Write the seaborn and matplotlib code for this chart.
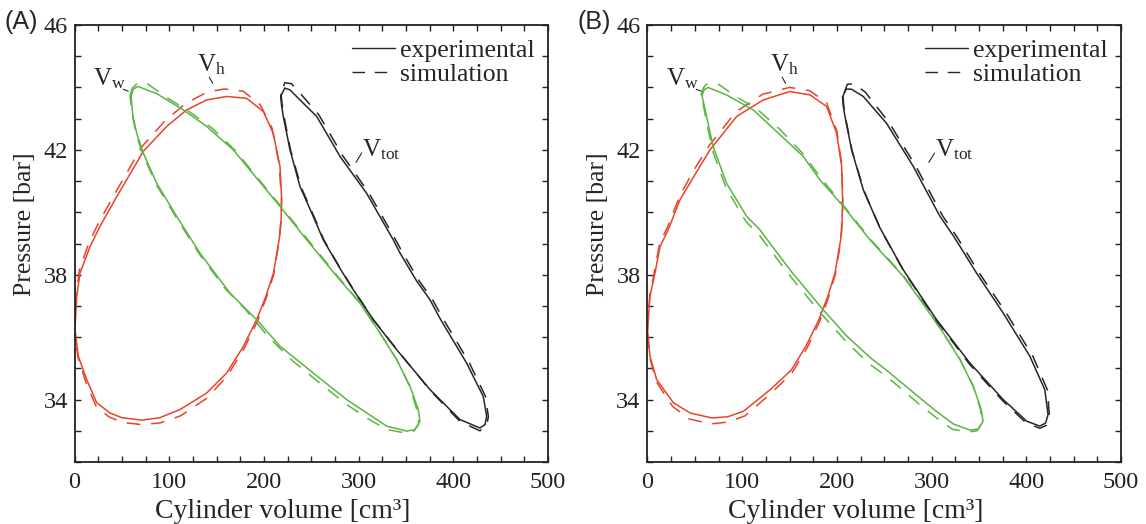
import numpy as np
import pandas as pd
import matplotlib
matplotlib.use("Agg")
import matplotlib.pyplot as plt
import seaborn as sns
from matplotlib.ticker import MultipleLocator, FixedLocator

# ---- panel A: p-V loops (volume cm3, pressure bar) ----
a_h_exp_x = [0.4, 2.2, 5.7, 16.3, 26.8, 44.5, 72.5, 97.3, 118.4, 139.5, 160.6, 181.7, 199.3, 209.8, 216.9, 218.7,
             218.0, 216.0, 210.0, 202.0, 192.3, 178.2, 160.6, 139.5, 111.3, 90.0, 70.9, 50.0, 37.4, 23.3, 12.8, 3.9]
a_h_exp_y = [36.24, 37.3, 38.05, 38.9, 39.55, 40.5, 41.95, 42.75, 43.28, 43.6, 43.71, 43.65, 43.23, 42.53, 41.47, 40.4,
             39.7, 39.12, 38.05, 37.31, 36.56, 35.7, 34.85, 34.21, 33.68, 33.42, 33.34, 33.42, 33.57, 33.9, 34.64, 35.39]
a_h_sim_x = [0.0, 1.8, 5.0, 15.5, 26.0, 43.5, 71.0, 96.0, 118.0, 140.0, 158.0, 178.0, 196.0, 208.5, 216.0, 218.5,
             217.8, 216.2, 210.3, 202.3, 193.0, 178.5, 161.0, 140.0, 112.0, 90.0, 70.0, 50.0, 36.0, 22.5, 12.0, 3.5]
a_h_sim_y = [36.2, 37.35, 38.15, 39.05, 39.7, 40.65, 42.1, 42.95, 43.5, 43.85, 43.95, 43.88, 43.45, 42.7, 41.55, 40.4,
             39.68, 39.1, 38.0, 37.25, 36.5, 35.6, 34.75, 34.05, 33.48, 33.25, 33.2, 33.27, 33.45, 33.8, 34.55, 35.35]

a_w_exp_x = [59.6, 62.0, 67.0, 86.7, 114.8, 139.5, 167.6, 185.0, 216.9, 245.1, 276.8, 301.4, 322.5, 340.1, 354.2,
             363.0, 364.7, 359.5, 350.7, 329.6, 287.3, 252.1, 216.9, 192.3, 164.1, 132.4, 107.8, 86.7, 72.5, 65.6,
             61.5]
a_w_exp_y = [43.7, 43.95, 44.03, 43.8, 43.28, 42.75, 42.0, 41.36, 40.19, 39.12, 37.95, 37.09, 36.13, 35.28, 34.43,
             33.68, 33.31, 33.04, 32.99, 33.15, 34.0, 34.85, 35.71, 36.56, 37.41, 38.69, 39.87, 40.93, 41.9, 42.53,
             43.1]
a_w_sim_x = [58.5, 61.0, 66.0, 76.0, 95.0, 120.0, 145.0, 170.0, 190.0, 216.0, 245.0, 277.0, 301.0, 322.0, 340.0,
             354.0, 362.0, 363.5, 358.0, 349.0, 330.0, 310.0, 287.0, 265.0, 252.0, 230.0, 205.0, 180.0, 160.0, 132.0,
             108.0, 87.0, 72.0, 65.0, 60.5]
a_w_sim_y = [43.75, 43.98, 44.12, 44.14, 43.72, 43.25, 42.7, 41.97, 41.22, 40.26, 39.17, 37.98, 37.12, 36.16, 35.3,
             34.42, 33.62, 33.22, 32.98, 32.93, 33.04, 33.38, 33.85, 34.38, 34.7, 35.25, 36.0, 36.9, 37.52, 38.65,
             39.8, 40.85, 41.85, 42.5, 43.2]

a_tot_exp_x = [217.6, 218.5, 220.4, 227.5, 238.0, 252.0, 262.6, 280.3, 294.3, 315.4, 340.1, 375.3, 407.0, 428.1,
               433.5, 435.2, 431.6, 414.0, 385.9, 375.3, 361.2, 343.6, 336.5, 308.4, 280.3, 255.7, 238.0, 227.5, 222.0]
a_tot_exp_y = [43.71, 43.45, 43.07, 42.0, 40.83, 39.87, 39.12, 38.2, 37.52, 36.56, 35.6, 34.32, 33.36, 33.09,
               33.2, 33.47, 34.1, 35.17, 36.6, 37.2, 37.8, 38.7, 39.12, 40.61, 41.79, 43.07, 43.6, 43.92, 43.98]
a_tot_sim_x = [218.0, 219.0, 221.0, 228.0, 239.0, 253.0, 263.5, 281.0, 295.0, 316.0, 341.0, 376.0, 407.0, 428.0,
               435.0, 437.0, 434.0, 417.0, 389.0, 378.0, 364.0, 346.5, 339.0, 311.0, 283.0, 258.0, 240.0, 229.0, 222.0]
a_tot_sim_y = [43.8, 43.5, 43.1, 42.0, 40.82, 39.85, 39.1, 38.18, 37.5, 36.54, 35.58, 34.28, 33.3, 33.0,
               33.15, 33.45, 34.1, 35.17, 36.6, 37.2, 37.8, 38.7, 39.12, 40.61, 41.82, 43.12, 43.75, 44.12, 44.15]

# ---- panel B ----
b_h_exp_x = [0.0, 2.6, 7.9, 13.2, 21.9, 34.3, 50.0, 66.0, 94.2, 122.3, 150.4, 171.6, 189.2, 199.8, 205.1, 206.1,
             205.5, 204.0, 198.0, 190.5, 181.0, 168.0, 152.0, 129.7, 101.6, 85.0, 68.1, 45.0, 27.3, 9.7, 2.6]
b_h_exp_y = [36.24, 37.3, 38.05, 38.9, 39.44, 40.4, 41.2, 42.0, 43.07, 43.6, 43.87, 43.76, 43.39, 42.53, 41.47, 40.4,
             39.7, 39.12, 38.05, 37.31, 36.56, 35.75, 34.95, 34.32, 33.63, 33.45, 33.41, 33.57, 33.9, 34.64, 35.39]
b_h_sim_x = [0.0, 2.4, 7.5, 12.8, 21.5, 34.0, 49.5, 65.5, 93.5, 121.5, 150.0, 171.0, 189.0, 200.0, 205.3, 206.3,
             205.7, 204.2, 198.3, 191.0, 181.5, 168.5, 152.5, 130.5, 103.0, 85.0, 67.0, 44.0, 26.5, 9.2, 2.3]
b_h_sim_y = [36.2, 37.35, 38.12, 39.0, 39.55, 40.52, 41.38, 42.15, 43.22, 43.78, 44.0, 43.9, 43.52, 42.6, 41.5, 40.4,
             39.68, 39.08, 38.0, 37.25, 36.48, 35.65, 34.85, 34.2, 33.48, 33.28, 33.22, 33.38, 33.78, 34.58, 35.35]

b_w_exp_x = [57.5, 60.0, 64.0, 83.5, 111.7, 138.0, 164.5, 182.1, 206.8, 234.9, 270.1, 291.0, 312.5, 330.0, 344.0,
             352.5, 354.4, 349.5, 341.0, 322.9, 305.3, 287.8, 270.1, 252.0, 235.0, 210.0, 184.0, 150.4, 118.7, 104.7,
             83.5, 69.4, 62.4]
b_w_exp_y = [43.75, 43.93, 44.0, 43.76, 43.28, 42.54, 41.79, 41.04, 40.19, 39.12, 37.95, 37.07, 36.13, 35.28, 34.43,
             33.68, 33.31, 33.06, 33.02, 33.22, 33.62, 34.05, 34.5, 34.95, 35.35, 36.05, 36.93, 38.16, 39.44, 39.87,
             40.93, 42.1, 43.07]
b_w_sim_x = [56.5, 59.0, 62.0, 73.0, 95.0, 116.0, 140.0, 165.0, 183.0, 207.0, 235.0, 270.0, 291.0, 312.0, 330.0,
             344.0, 352.0, 353.5, 348.0, 339.0, 322.0, 305.0, 287.0, 270.0, 252.0, 234.0, 210.0, 184.0, 150.0, 118.0,
             104.0, 83.0, 69.0, 62.0, 58.0]
b_w_sim_y = [43.75, 43.98, 44.1, 44.14, 43.68, 43.3, 42.65, 41.85, 41.1, 40.22, 39.15, 37.98, 37.1, 36.15, 35.3,
             34.43, 33.65, 33.25, 33.0, 32.96, 33.05, 33.42, 33.85, 34.3, 34.75, 35.15, 35.85, 36.73, 37.98, 39.27,
             39.7, 40.78, 41.95, 42.95, 43.6]

b_tot_exp_x = [206.0, 206.8, 208.6, 215.6, 227.9, 245.5, 270.1, 305.3, 340.5, 375.7, 400.4, 414.3, 420.5, 423.1,
               419.6, 403.8, 375.7, 347.6, 323.0, 308.9, 280.7, 252.5, 227.9, 215.6, 210.0]
b_tot_exp_y = [43.7, 43.4, 43.07, 42.0, 40.72, 39.5, 38.16, 36.56, 35.17, 34.0, 33.31, 33.15, 33.25, 33.52,
               34.32, 35.39, 36.77, 38.05, 39.25, 39.87, 41.47, 42.85, 43.71, 43.94, 43.95]
b_tot_sim_x = [206.5, 207.3, 209.0, 216.0, 228.5, 246.0, 270.5, 305.5, 340.5, 375.5, 400.0, 414.5, 421.5, 424.5,
               422.5, 407.0, 379.0, 350.5, 326.0, 312.0, 283.5, 255.0, 230.0, 218.0, 211.0]
b_tot_sim_y = [43.72, 43.4, 43.05, 41.98, 40.7, 39.47, 38.12, 36.52, 35.12, 33.95, 33.25, 33.08, 33.18, 33.45,
               34.3, 35.39, 36.77, 38.05, 39.25, 39.87, 41.47, 42.88, 43.85, 44.12, 44.1]

x_ticks = [0, 100, 200, 300, 400, 500]
y_ticks = [34, 38, 42, 46]

RED = "#e8432d"
GREEN = "#5bb544"
BLACK = "#262626"
DASH = (0, (9, 7))

panels = {
    "A": [(a_h_exp_x, a_h_exp_y, a_h_sim_x, a_h_sim_y, RED),
          (a_w_exp_x, a_w_exp_y, a_w_sim_x, a_w_sim_y, GREEN),
          (a_tot_exp_x, a_tot_exp_y, a_tot_sim_x, a_tot_sim_y, BLACK)],
    "B": [(b_h_exp_x, b_h_exp_y, b_h_sim_x, b_h_sim_y, RED),
          (b_w_exp_x, b_w_exp_y, b_w_sim_x, b_w_sim_y, GREEN),
          (b_tot_exp_x, b_tot_exp_y, b_tot_sim_x, b_tot_sim_y, BLACK)],
}

sns.set_style("ticks")
plt.rcParams["font.family"] = ["Liberation Serif", "DejaVu Serif"]
plt.rcParams["mathtext.fontset"] = "custom"
plt.rcParams["mathtext.rm"] = "Liberation Serif"
plt.rcParams["mathtext.it"] = "Liberation Serif:italic"

fig = plt.figure(figsize=(11.46, 5.24), dpi=100)
lefts = {"A": 0.0651, "B": 0.565}


def closed(xs, ys):
    # close the loop by repeating the first point
    return pd.DataFrame({"V": list(xs) + [xs[0]], "p": list(ys) + [ys[0]]})


for name, loops in panels.items():
    ax = fig.add_axes([lefts[name], 0.1183, 0.4131, 0.834])
    for ex, ey, sx, sy, col in loops:
        sns.lineplot(data=closed(sx, sy), x="V", y="p", sort=False, estimator=None, ax=ax,
                     color=col, lw=1.1, linestyle=DASH)
        sns.lineplot(data=closed(ex, ey), x="V", y="p", sort=False, estimator=None, ax=ax,
                     color=col, lw=1.1)

    ax.set_xlim(0, 500)
    ax.set_ylim(32, 46)
    ax.xaxis.set_major_locator(FixedLocator(x_ticks))
    ax.yaxis.set_major_locator(FixedLocator(y_ticks))
    ax.xaxis.set_minor_locator(MultipleLocator(25))
    ax.yaxis.set_minor_locator(MultipleLocator(1))
    ax.tick_params(which="both", direction="in", top=True, right=True,
                   length=4, width=1.0, colors="#222222", labelsize=17.5, pad=5)
    ax.tick_params(axis="x", pad=7)
    for s in ax.spines.values():
        s.set_linewidth(1.3)
        s.set_color("#222222")
    ax.set_xlabel("Cylinder volume [cm³]", fontsize=20, va="baseline")
    ax.xaxis.set_label_coords(0.439, -0.128)
    ax.set_ylabel("Pressure [bar]", fontsize=18.5, va="center")
    ax.yaxis.set_label_coords(-0.105, 0.545)

    # loop labels with small leader marks
    ax.text(19.7, 44.08, "V$_\\mathrm{w}$", fontsize=18, ha="left", va="baseline")
    ax.plot([51.4, 56.7], [43.94, 43.88], color=BLACK, lw=0.8)
    ax.text(128.9, 44.5, "V$_\\mathrm{h}$", fontsize=18, ha="left", va="baseline")
    ax.plot([142.2, 145.8], [44.33, 44.13], color=BLACK, lw=0.8)
    ax.text(303.2, 41.79, "V$_\\mathrm{tot}$", fontsize=18, ha="left", va="baseline")
    ax.plot([297.2, 303.2], [41.6, 41.9], color=BLACK, lw=0.8)

    h1, = ax.plot([], [], color=BLACK, lw=1.0)
    h2, = ax.plot([], [], color=BLACK, lw=1.0, linestyle=DASH)
    ax.legend([h1, h2], ["experimental", "simulation"], loc="upper right", frameon=False,
              fontsize=18.5, handlelength=1.65, handletextpad=0.2, labelspacing=0.06,
              borderpad=0.2, borderaxespad=0.33)

    fig.text(lefts[name] - 0.061, 0.958, f"({name})", fontsize=18, family="Liberation Sans",
             ha="left", va="center")

fig.savefig("out.png", dpi=100)
